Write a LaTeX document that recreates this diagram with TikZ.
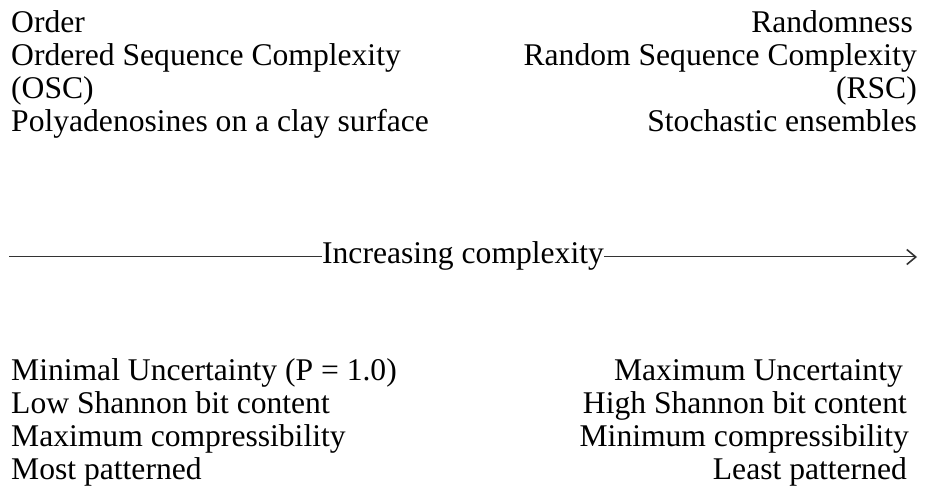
\documentclass[tikz,border=0pt]{standalone}
\usepackage{fontspec}
\setmainfont{Liberation Serif}
\usetikzlibrary{arrows.meta}
\begin{document}
\begin{tikzpicture}[x=1pt,y=-1pt,
  txt/.style={inner sep=0pt,font=\fontsize{31.6}{35}\selectfont},
  lt/.style={txt,anchor=base west},
  rt/.style={txt,anchor=base east},
  axis/.style={line width=1pt,draw=black!80}]
\useasboundingbox (0,0) rectangle (925,502);
% top left
\node[lt] (o1) at (11,33) {Order};
\node[lt] (o2) at (11,66) {Ordered Sequence Complexity};
\node[lt] (o3) at (11,99) {(OSC)};
\node[lt] (o4) at (11,132) {Polyadenosines on a clay surface};
% top right
\node[rt] (r1) at (913,33) {Randomness};
\node[rt] (r2) at (917,66) {Random Sequence Complexity};
\node[rt] (r3) at (917,99) {(RSC)};
\node[rt] (r4) at (917,132) {Stochastic ensembles};
% axis
\node[txt,anchor=base] (inc) at (463,264) {Increasing complexity};
\coordinate (as) at (9,257);
\coordinate (ae) at (917,257);
\draw[axis] (as) -- (as -| inc.west);
\draw[axis,-{Straight Barb[length=9pt,width=15pt,line width=1.6pt]}] (ae -| inc.east) -- (ae);
% bottom left
\node[lt] (b1) at (11,380) {Minimal Uncertainty (P = 1.0)};
\node[lt] (b2) at (11,413) {Low Shannon bit content};
\node[lt] (b3) at (11,446) {Maximum compressibility};
\node[lt] (b4) at (11,479) {Most patterned};
% bottom right
\node[rt] (c1) at (903,380) {Maximum Uncertainty};
\node[rt] (c2) at (907,413) {High Shannon bit content};
\node[rt] (c3) at (909,446) {Minimum compressibility};
\node[rt] (c4) at (907,479) {Least patterned};
\end{tikzpicture}
\end{document}
